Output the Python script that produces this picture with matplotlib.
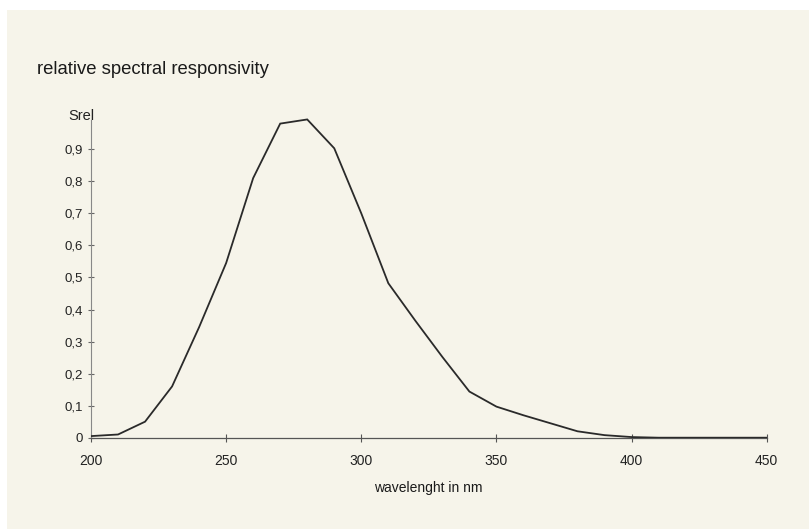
import matplotlib
matplotlib.use("Agg")
import matplotlib.pyplot as plt

# data
wavelength = [200, 210, 220, 230, 240, 250, 260, 270, 280, 290, 300, 310, 320, 330,
              340, 350, 360, 370, 380, 390, 400, 410, 420, 430, 440, 450]
s_rel = [0.005, 0.01, 0.05, 0.16, 0.345, 0.545, 0.81, 0.98, 0.993, 0.903, 0.70, 0.482,
         0.365, 0.252, 0.144, 0.097, 0.07, 0.045, 0.02, 0.008, 0.002, 0.0, 0.0, 0.0, 0.0, 0.0]
x_ticks = [200, 250, 300, 350, 400, 450]
y_ticks = [0, 0.1, 0.2, 0.3, 0.4, 0.5, 0.6, 0.7, 0.8, 0.9]
y_tick_labels = ["0", "0,1", "0,2", "0,3", "0,4", "0,5", "0,6", "0,7", "0,8", "0,9"]

plt.rcParams['font.family'] = ['Liberation Sans', 'DejaVu Sans']

W, H = 809, 529
fig = plt.figure(figsize=(W / 100, H / 100), dpi=100)
fig.patch.set_facecolor('white')
bg = '#f6f4ea'
bg_ax = fig.add_axes([7 / W, 0, 1 - 7 / W, 1 - 10 / H], zorder=-10)
bg_ax.set_facecolor(bg)
bg_ax.set_xticks([])
bg_ax.set_yticks([])
for s in bg_ax.spines.values():
    s.set_visible(False)

left, right = 91 / W, 766.7 / W
bottom, top = 1 - 437.7 / H, 1 - 117.2 / H
ax = fig.add_axes([left, bottom, right - left, top - bottom])
ax.set_facecolor('none')

ax.plot(wavelength, s_rel, color='#2a2a2a', linewidth=1.3, solid_joinstyle='miter', zorder=3)

ax.set_xlim(200, 450)
ax.set_ylim(0, 1.0)

for s in ['top', 'right']:
    ax.spines[s].set_visible(False)
ax.spines['left'].set_color('#888888')
ax.spines['left'].set_linestyle((0, (2, 1)))
ax.spines['left'].set_linewidth(0.8)
ax.spines['left'].set_bounds(0, 0.99)
ax.spines['bottom'].set_color('#555555')
ax.spines['bottom'].set_linewidth(0.9)

ax.set_xticks(x_ticks)
ax.set_xticklabels([str(v) for v in x_ticks])
ax.set_yticks(y_ticks)
ax.set_yticklabels(y_tick_labels)
ax.tick_params(axis='x', direction='inout', length=6, width=0.8, color='#555555',
               labelsize=10, pad=9, labelcolor='#222222')
ax.tick_params(axis='y', direction='inout', length=5, width=0.8, color='#666666',
               labelsize=9.5, pad=3, labelcolor='#222222')

fig.text(37 / W, 1 - 69 / H, "relative spectral responsivity", fontsize=13.3,
         ha='left', va='center', color='#1a1a1a')
fig.text(81 / W, 1 - 116 / H, "Srel", fontsize=10.5, ha='center', va='center', color='#222222')
fig.text(428 / W, 1 - 488 / H, "wavelenght in nm", fontsize=10, ha='center', va='center',
         color='#1a1a1a')

fig.savefig("out.png", dpi=100, facecolor=fig.get_facecolor())
